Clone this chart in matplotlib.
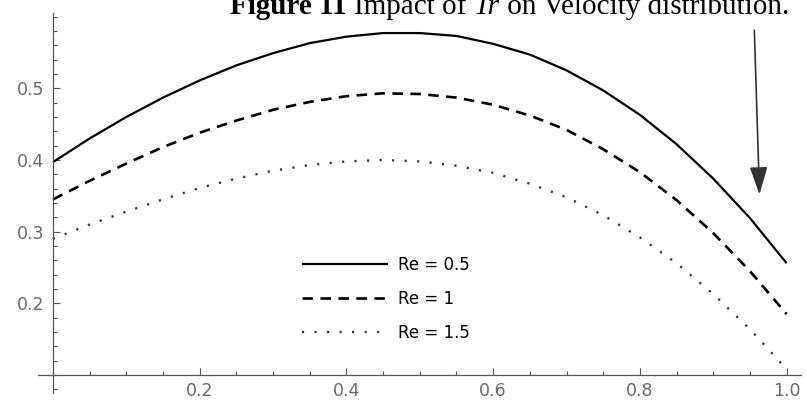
import matplotlib
matplotlib.use("Agg")
import matplotlib.pyplot as plt
from matplotlib.ticker import MultipleLocator, FixedLocator

# ---- data ----
x_vals = [0.00, 0.05, 0.10, 0.15, 0.20, 0.25, 0.30, 0.35, 0.40, 0.45, 0.50,
          0.55, 0.60, 0.65, 0.70, 0.75, 0.80, 0.85, 0.90, 0.95, 1.00]
re_05 = [0.397, 0.430, 0.460, 0.487, 0.511, 0.532, 0.549, 0.563, 0.572, 0.577, 0.577,
         0.573, 0.562, 0.547, 0.525, 0.497, 0.463, 0.422, 0.374, 0.319, 0.256]
re_1 = [0.345, 0.371, 0.395, 0.418, 0.438, 0.455, 0.470, 0.481, 0.489, 0.493, 0.492,
        0.487, 0.477, 0.462, 0.442, 0.415, 0.383, 0.344, 0.298, 0.245, 0.185]
re_15 = [0.290, 0.310, 0.328, 0.345, 0.361, 0.374, 0.385, 0.393, 0.398, 0.400, 0.398,
         0.392, 0.382, 0.367, 0.348, 0.323, 0.292, 0.256, 0.213, 0.164, 0.108]
labels = ["Re = 0.5", "Re = 1", "Re = 1.5"]
x_ticks = [0.2, 0.4, 0.6, 0.8, 1.0]
y_ticks = [0.2, 0.3, 0.4, 0.5]
arrow_start = (0.956, 0.581)
arrow_end = (0.963, 0.352)
title_parts = [("Figure 11 ", "bold", "normal"), ("Impact of ", "normal", "normal"),
               ("Tr", "normal", "italic"), (" on Velocity distribution.", "normal", "normal")]

W, H = 807, 403
fig = plt.figure(figsize=(W / 100, H / 100), dpi=100)
ax = fig.add_axes([38.3 / W, 10 / H, 763 / W, 380 / H])
ax.set_xlim(-0.02, 1.02)
ax.set_ylim(0.075, 0.605)

axis_col = "#555555"
lab_col = "#6a6a6a"
sans = ["DejaVu Sans"]
serif = ["Liberation Serif", "DejaVu Serif"]

ax.plot(x_vals, re_05, color="black", lw=1.6, solid_capstyle="butt", label=labels[0])
ax.plot(x_vals, re_1, color="black", lw=1.9, linestyle=(0, (4.0, 2.8)), label=labels[1])
ax.plot(x_vals, re_15, color="#333333", lw=1.7, linestyle=(0, (0.9, 4.4)), label=labels[2])

# axes in Mathematica style
for s in ["top", "right"]:
    ax.spines[s].set_visible(False)
ax.spines["left"].set_position(("data", 0.0))
ax.spines["bottom"].set_position(("data", 0.1))
for s in ["left", "bottom"]:
    ax.spines[s].set_color(axis_col)
    ax.spines[s].set_linewidth(0.9)

ax.xaxis.set_major_locator(FixedLocator(x_ticks))
ax.xaxis.set_minor_locator(MultipleLocator(0.05))
ax.yaxis.set_major_locator(FixedLocator(y_ticks))
ax.yaxis.set_minor_locator(MultipleLocator(0.02))
ax.tick_params(axis="both", which="both", direction="in", color=axis_col, width=0.8)
ax.tick_params(axis="both", which="major", length=5)
ax.tick_params(axis="both", which="minor", length=3)
ax.tick_params(axis="x", which="major", pad=5, labelsize=12.5, labelcolor=lab_col)
ax.tick_params(axis="y", which="major", pad=6, labelsize=12.5, labelcolor=lab_col)
ax.xaxis.set_major_formatter(plt.FuncFormatter(lambda v, p: f"{v:.1f}"))
ax.yaxis.set_major_formatter(plt.FuncFormatter(lambda v, p: f"{v:.1f}"))
for t in ax.get_xticklabels() + ax.get_yticklabels():
    t.set_family(sans)

# arrow
ax.annotate("", xy=arrow_end, xytext=arrow_start,
            arrowprops=dict(arrowstyle="-|>,head_length=1.7,head_width=0.55",
                            color="#333333", lw=1.2, shrinkA=0, shrinkB=0))

ax.legend(loc="upper left", bbox_to_anchor=(302 / W, 1 - 256 / H),
          bbox_transform=fig.transFigure, frameon=False, borderpad=0,
          borderaxespad=0, handlelength=5.18, handletextpad=0.6,
          labelspacing=0.95, prop={"family": sans, "size": 12})

# clipped caption at the top, placed piece by piece
renderer = fig.canvas.get_renderer()
xpix = 230.0
for txt, weight, style in title_parts:
    t = fig.text(xpix / W, 1 - 14 / H, txt, ha="left", va="baseline",
                 fontsize=21, fontweight=weight, style=style, family=serif)
    bb = t.get_window_extent(renderer)
    xpix = bb.x1

fig.savefig("out.png", dpi=100)
